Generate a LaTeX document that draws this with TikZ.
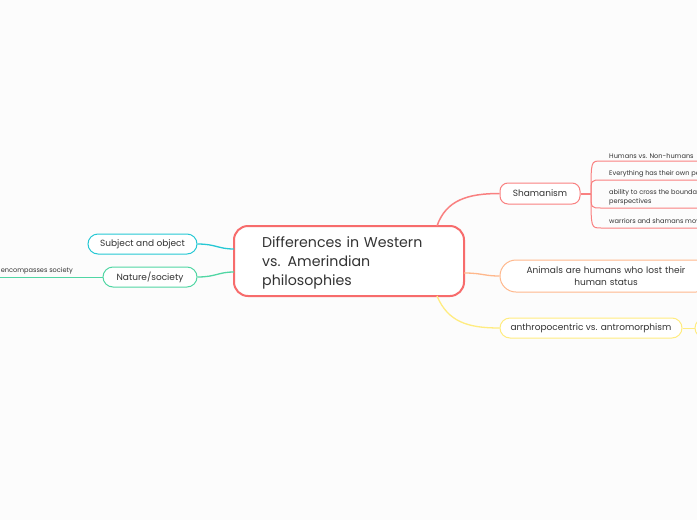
\documentclass[tikz,border=0pt]{standalone}
\usepackage{fontspec}
\setmainfont{Poppins}
\definecolor{bg}{RGB}{252,252,252}
\definecolor{txt}{RGB}{51,51,51}
\definecolor{cred}{RGB}{247,108,108}
\definecolor{lred}{RGB}{249,128,128}
\definecolor{corange}{RGB}{255,184,140}
\definecolor{cyellow}{RGB}{255,236,128}
\definecolor{cteal}{RGB}{38,200,212}
\definecolor{cmint}{RGB}{80,214,164}
\tikzset{
  topicbox/.style={draw, rounded corners=#1, fill=white, text=txt, inner sep=0pt, align=center},
  mainbox/.style={draw=cred, line width=2pt, rounded corners=14pt, fill=white,
     minimum width=230pt, minimum height=70pt, inner sep=0pt},
  maintext/.style={text=txt, text width=174pt, inner sep=0pt, align=left,
     font=\fontsize{14.2}{19}\selectfont},
  subtext/.style={anchor=south west, inner sep=0pt, text=txt, align=left,
     font=\fontsize{6.6}{9}\selectfont}
}
\begin{document}
\begin{tikzpicture}[x=1pt,y=-1pt]
\fill[bg] (0,0) rectangle (697,520);
\useasboundingbox (0,0) rectangle (697,520);
\clip (0,0) rectangle (697,520);

% central
\node[mainbox] (main) at (349,261) {};
\node[maintext, anchor=west] (title) at (262,263) {Differences in Western\\vs. Amerindian\\philosophies};

% main topics
\node[topicbox=8pt, draw=lred, line width=1pt, minimum width=80pt, minimum height=21pt,
  font=\fontsize{9}{11}\selectfont] (sham) at (540,193.5) {Shamanism};
\node[topicbox=16pt, draw=corange, line width=1pt, minimum width=212pt, minimum height=32pt,
  text width=200pt, font=\fontsize{9}{12}\selectfont] (anim) at (606,276) {Animals are humans who lost their\\human status};
\node[topicbox=10pt, draw=cyellow, line width=1pt, minimum width=182pt, minimum height=20pt,
  font=\fontsize{9}{11}\selectfont] (anthro) at (591,328) {anthropocentric vs. antromorphism};
\node[topicbox=10pt, draw=cyellow, line width=1pt, minimum width=70pt, minimum height=20pt] (anthrochild) at (730,328) {};
\node[topicbox=10pt, draw=cteal, line width=1pt, minimum width=109pt, minimum height=20pt,
  font=\fontsize{9}{11}\selectfont] (subj) at (142.5,244) {Subject and object};
\node[topicbox=10pt, draw=cmint, line width=1pt, minimum width=94pt, minimum height=20pt,
  font=\fontsize{9}{11}\selectfont] (nat) at (150,277) {Nature/society};

% connectors from central
\coordinate (mTop) at (437,226);
\coordinate (mBot) at (437,296);
\coordinate (mRight) at (464,273);
\coordinate (mLeftA) at (234,249);
\coordinate (mLeftB) at (234,272);
\draw[lred, line width=1.5pt] (mTop) .. controls (446,200) and (468,193.5) .. (sham.west);
\draw[corange, line width=1.3pt] (mRight) .. controls (482,273) and (484,276) .. (anim.west);
\draw[cyellow, line width=1.3pt] (mBot) .. controls (448,322) and (468,328) .. (anthro.west);
\draw[cteal, line width=1.3pt] (subj.east) .. controls (216,244) and (218,249) .. (mLeftA);
\draw[cmint, line width=1.3pt] (nat.east) .. controls (216,277) and (218,272) .. (mLeftB);
\draw[cyellow, line width=1pt] (anthro.east) -- (anthrochild.west);

% Shamanism sub-items
\coordinate (junc) at (591,193.5);
\draw[lred, line width=2pt] (sham.east) -- (junc);
\foreach \y/\n in {161/a,180/b,208/c,228/d}{
  \coordinate (s\n) at (601,\y);
  \coordinate (e\n) at (720,\y);
}
\node[subtext] (ta) at (609,158.5) {Humans vs. Non-humans};
\node[subtext] (tb) at (609,177.5) {Everything has their own perspective};
\node[subtext] (tc) at (609,205.5) {ability to cross the boundaries between\\perspectives};
\node[subtext] (td) at (609,225.5) {warriors and shamans move between perspectives};
\foreach \n in {a,b,c,d}{
  \draw[lred, line width=1pt] (junc) .. controls (junc |- s\n) .. (s\n) -- (e\n);
}

% Nature sub-item
\coordinate (nl) at (-10,277);
\draw[cmint, line width=1pt] (nat.west) -- (nl);
\node[anchor=south east, inner sep=0pt, text=txt, font=\fontsize{6.6}{9}\selectfont] (tn) at (73,274.5) {Nature encompasses society};
\end{tikzpicture}
\end{document}
